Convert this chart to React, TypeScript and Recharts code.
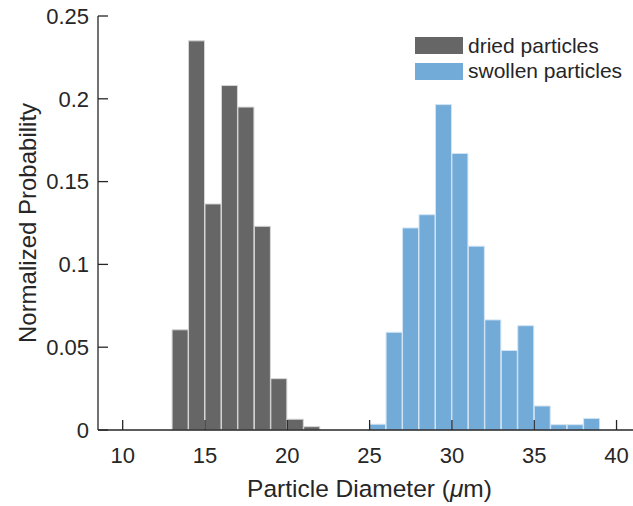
import { Bar, ComposedChart, Legend, XAxis, YAxis } from "recharts";

// bin centres (1 µm bins) and normalized probabilities
const driedBins = [13.5, 14.5, 15.5, 16.5, 17.5, 18.5, 19.5, 20.5, 21.5];
const driedValues = [0.0605, 0.235, 0.1365, 0.208, 0.195, 0.123, 0.031, 0.0065, 0.002];

const swollenBins = [25.5, 26.5, 27.5, 28.5, 29.5, 30.5, 31.5, 32.5, 33.5, 34.5, 35.5, 36.5, 37.5, 38.5];
const swollenValues = [0.0035, 0.059, 0.122, 0.13, 0.1965, 0.167, 0.111, 0.0665, 0.048, 0.063, 0.0145, 0.0032, 0.0032, 0.007];

const xTicks = [10, 15, 20, 25, 30, 35, 40];
const yTicks = [0, 0.05, 0.1, 0.15, 0.2, 0.25];

const data = [
  ...driedBins.map((x, i) => ({ x, dried: driedValues[i] })),
  ...swollenBins.map((x, i) => ({ x, swollen: swollenValues[i] })),
];

const FONT = '"Liberation Sans", Arial, Helvetica, sans-serif';
const INK = "#262626";

const LegendBox = ({ payload }: any) => (
  <div style={{ fontFamily: FONT, fontSize: 21, color: INK }}>
    {(payload || []).map((p: any) => (
      <div key={p.value} style={{ display: "flex", alignItems: "center", height: 25.6 }}>
        <span style={{ width: 48, height: 17, background: p.color, marginRight: 5, display: "inline-block" }} />
        <span>{p.value}</span>
      </div>
    ))}
  </div>
);

const YLabel = ({ viewBox }: any) => {
  const cx = viewBox.x + 27;
  const cy = viewBox.y + viewBox.height / 2;
  return (
    <text
      x={cx}
      y={cy}
      transform={`rotate(-90, ${cx}, ${cy})`}
      textAnchor="middle"
      dominantBaseline="central"
      fontSize={24}
      fontFamily={FONT}
      fill={INK}
    >
      Normalized Probability
    </text>
  );
};

const XLabel = ({ viewBox }: any) => (
  <text
    x={viewBox.x + viewBox.width / 2 + 4}
    y={viewBox.y + 67}
    textAnchor="middle"
    fontSize={24.5}
    fontFamily={FONT}
    fill={INK}
  >
    Particle Diameter (<tspan fontStyle="italic">μ</tspan>m)
  </text>
);

const App = () => {
  return (
    <div style={{ position: "absolute", left: 0, top: 0 }}>
      <ComposedChart
        width={633}
        height={506}
        data={data}
        margin={{ top: 16, right: 0, left: 0, bottom: 0 }}
        barCategoryGap={0}
        barGap={0}
      >
        <XAxis
          dataKey="x"
          type="number"
          domain={[8.5, 41]}
          allowDataOverflow
          ticks={xTicks}
          height={76}
          tickSize={-10}
          tickMargin={27}
          stroke={INK}
          strokeWidth={1.3}
          tick={{ fill: INK, fontSize: 22, fontFamily: FONT }}
          label={<XLabel />}
        />
        <YAxis
          type="number"
          domain={[0, 0.25]}
          ticks={yTicks}
          width={98}
          tickSize={-10}
          tickMargin={19}
          stroke={INK}
          strokeWidth={1.3}
          tick={{ fill: INK, fontSize: 22, fontFamily: FONT }}
          label={<YLabel />}
        />
        <Legend
          layout="vertical"
          align="center"
          verticalAlign="middle"
          content={<LegendBox />}
          wrapperStyle={{ position: "absolute", top: 33, left: 415, width: 218 }}
        />
        <Bar dataKey="dried" name="dried particles" stackId="h" fill="#666666" stroke="#d6d6d6" strokeWidth={1} isAnimationActive={false} />
        <Bar dataKey="swollen" name="swollen particles" stackId="h" fill="#72aad8" stroke="#d2e4f4" strokeWidth={1} isAnimationActive={false} />
      </ComposedChart>
    </div>
  );
};

export default App;
